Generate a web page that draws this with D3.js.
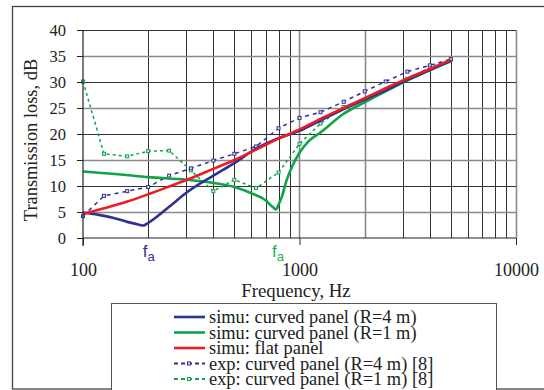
<!DOCTYPE html>
<html>
<head>
<meta charset="utf-8">
<script src="https://cdn.jsdelivr.net/npm/d3@7"></script>
<style>
    body { margin: 0; background: white; }
    text { font-family: "Liberation Serif", "Times New Roman", serif; fill: #222; }
</style>
</head>
<body>
<div id="canvas"></div>
<script>

// simulation curves (Hz, dB)
const simuR4Freq = [100, 120, 140, 160, 180, 190, 200, 250, 300, 400, 500, 630, 800, 1000, 1250, 1600, 2000, 2500, 3150, 4000, 5000];
const simuR4TL = [4.9, 4.4, 3.8, 3.1, 2.6, 2.4, 2.9, 6.0, 8.7, 12.0, 14.4, 17.2, 19.2, 20.6, 22.6, 24.8, 26.6, 28.4, 30.4, 32.3, 34.1];

const simuR1Freq = [100, 150, 200, 300, 400, 500, 600, 700, 750, 780, 800, 830, 870, 930, 1000, 1100, 1250, 1600, 2000, 2500, 3150, 4000, 5000];
const simuR1TL = [12.8, 12.2, 11.7, 11.2, 10.6, 9.8, 8.6, 7.2, 6.0, 5.5, 6.4, 8.0, 11.0, 14.0, 16.4, 18.6, 20.3, 23.9, 26.1, 28.2, 30.3, 32.3, 34.0];

const flatFreq = [100, 125, 160, 200, 250, 315, 400, 500, 630, 800, 1000, 1250, 1600, 2000, 2500, 3150, 4000, 5000];
const flatTL = [4.6, 5.7, 7.0, 8.4, 9.9, 11.5, 13.3, 15.0, 17.0, 19.1, 20.9, 22.9, 25.0, 26.9, 28.8, 30.7, 32.5, 34.3];

// experiments, third octave bands
const expFreq = [100, 125, 160, 200, 250, 315, 400, 500, 630, 800, 1000, 1250, 1600, 2000, 2500, 3150, 4000, 5000];
const expR4TL = [4.2, 8.1, 9.0, 9.8, 12.0, 13.4, 14.9, 16.2, 17.6, 21.1, 23.1, 24.2, 26.2, 28.2, 30.1, 32.0, 33.2, 34.4];
const expR1TL = [30.1, 16.2, 15.7, 16.7, 16.8, 13.0, 9.0, 11.2, 9.6, 12.6, 18.1, 22.0, 25.2, 26.6, 28.5, 30.6, 32.8, 34.3];

const yTicks = [0, 5, 10, 15, 20, 25, 30, 35, 40];
const xTicks = [100, 1000, 10000];
const faFreq = [195, 770];

const legendLabels = [
    "simu: curved panel (R=4 m)",
    "simu: curved panel (R=1 m)",
    "simu: flat panel",
    "exp: curved panel (R=4 m) [8]",
    "exp: curved panel (R=1 m) [8]"
];

const blue = "#2e3192";
const green = "#0fa34a";
const red = "#ed1c24";

const width = 544;
const height = 390;
const margin = { top: 30, right: 28, bottom: 152, left: 83 };

const svg = d3.select("#canvas")
    .append("svg")
    .attr("width", width)
    .attr("height", height);

// outer frame (runs past right edge)
svg.append("rect")
    .attr("x", 12.5).attr("y", 6.5)
    .attr("width", 600).attr("height", 382.5)
    .attr("fill", "none")
    .attr("stroke", "#444")
    .attr("stroke-width", 1.3);

const x = d3.scaleLog()
    .domain([100, 10000])
    .range([margin.left, width - margin.right]);

const y = d3.scaleLinear()
    .domain([0, 40])
    .range([height - margin.bottom, margin.top]);

const plot = svg.append("g");

// grid
const minor = [];
[100, 1000].forEach(dec => {
    for (let k = 2; k <= 9; k++) minor.push(dec * k);
});
const isGrey = d => d === 1000 || d === 2000 || d === 10000;

plot.selectAll(".vgrid")
    .data(minor.concat([1000, 10000]))
    .join("line")
    .attr("x1", d => Math.round(x(d)) + 0.5)
    .attr("x2", d => Math.round(x(d)) + 0.5)
    .attr("y1", y(0))
    .attr("y2", y(40))
    .attr("stroke", d => isGrey(d) ? "#8a8a8a" : "#333")
    .attr("stroke-width", d => isGrey(d) ? 1.6 : 1);

plot.selectAll(".hgrid")
    .data(yTicks.filter(d => d > 0))
    .join("line")
    .attr("x1", x(100))
    .attr("x2", x(10000))
    .attr("y1", d => Math.round(y(d)) + 0.5)
    .attr("y2", d => Math.round(y(d)) + 0.5)
    .attr("stroke", d => d % 10 === 0 ? "#333" : "#8a8a8a")
    .attr("stroke-width", d => d % 10 === 0 ? 1 : 1.6);

// axes
const yAxis = d3.axisLeft(y).tickValues(yTicks).tickSize(6).tickPadding(11);
const gy = svg.append("g")
    .attr("transform", `translate(${x(100)},0)`)
    .call(yAxis);
gy.select(".domain").remove();
gy.append("line")
    .attr("x1", 0).attr("x2", 0)
    .attr("y1", y(40)).attr("y2", y(0) + 8)
    .attr("stroke", "#222").attr("stroke-width", 1.2);
gy.selectAll(".tick line").attr("stroke", "#222");
gy.selectAll(".tick text")
    .style("font-family", "Liberation Serif")
    .style("font-size", "16.5px")
    .attr("fill", "#222")
    .attr("dy", "0.36em");

const xAxis = d3.axisBottom(x).tickValues(xTicks).tickFormat(d3.format("d")).tickSize(7).tickPadding(18);
const gx = svg.append("g")
    .attr("transform", `translate(0,${y(0)})`)
    .call(xAxis);
gx.select(".domain").attr("stroke", "#222").attr("stroke-width", 1.2).attr("d", `M${x(100)},0H${x(10000)}`);
gx.selectAll(".tick line").attr("stroke", "#222");
gx.selectAll(".tick text")
    .style("font-family", "Liberation Serif")
    .style("font-size", "18px")
    .attr("fill", "#222");

// axis titles
svg.append("text")
    .attr("x", 296)
    .attr("y", 297)
    .attr("text-anchor", "middle")
    .style("font-size", "18.8px")
    .text("Frequency, Hz");

svg.append("text")
    .attr("transform", "translate(37,140) rotate(-90)")
    .attr("text-anchor", "middle")
    .style("font-size", "18.4px")
    .text("Transmission loss, dB");

// curves
const line = d3.line()
    .x(d => x(d[0]))
    .y(d => y(d[1]));

const zip = (f, v) => f.map((d, i) => [d, v[i]]);

const series = [
    { data: zip(expFreq, expR1TL), color: green, dash: "3,3", marks: true },
    { data: zip(expFreq, expR4TL), color: blue, dash: "4,4", marks: true },
    { data: zip(simuR1Freq, simuR1TL), color: green, dash: null, marks: false },
    { data: zip(simuR4Freq, simuR4TL), color: blue, dash: null, marks: false },
    { data: zip(flatFreq, flatTL), color: red, dash: null, marks: false }
];

series.forEach(s => {
    line.curve(s.dash ? d3.curveLinear : d3.curveMonotoneX);
    plot.append("path")
        .datum(s.data)
        .attr("d", line)
        .attr("fill", "none")
        .attr("stroke", s.color)
        .attr("stroke-width", s.dash ? 1.5 : 2.6)
        .attr("stroke-dasharray", s.dash);
    if (s.marks) {
        plot.selectAll(null)
            .data(s.data)
            .join("rect")
            .attr("x", d => x(d[0]) - 1.5)
            .attr("y", d => y(d[1]) - 1.5)
            .attr("width", 3)
            .attr("height", 3)
            .attr("fill", "#dfe6f5")
            .attr("stroke", s.color)
            .attr("stroke-width", 1);
    }
});

// fa labels
const faColors = [blue, "#14b35a"];
faFreq.forEach((f, i) => {
    const t = svg.append("text")
        .attr("x", x(f) - 3)
        .attr("y", 257)
        .style("font-family", "Liberation Sans")
        .style("font-size", "17px")
        .style("fill", faColors[i]);
    t.append("tspan").text("f");
    t.append("tspan").attr("dy", 4).style("font-size", "13px").text("a");
});

// legend
const legend = svg.append("g");
legend.append("rect")
    .attr("x", 111.5).attr("y", 303.5)
    .attr("width", 385).attr("height", 100)
    .attr("fill", "white")
    .attr("stroke", "#555")
    .attr("stroke-width", 1);

const legendStyle = [
    { color: blue, dash: null },
    { color: green, dash: null },
    { color: red, dash: null },
    { color: blue, dash: "4,3" },
    { color: green, dash: "4,3" }
];

legendLabels.forEach((label, i) => {
    const ly = 317 + i * 15.5;
    legend.append("line")
        .attr("x1", 174).attr("x2", 205)
        .attr("y1", ly).attr("y2", ly)
        .attr("stroke", legendStyle[i].color)
        .attr("stroke-width", legendStyle[i].dash ? 1.8 : 2.6)
        .attr("stroke-dasharray", legendStyle[i].dash);
    if (legendStyle[i].dash) {
        legend.append("rect")
            .attr("x", 187.5).attr("y", ly - 1.5)
            .attr("width", 3).attr("height", 3)
            .attr("fill", "#dfe6f5")
            .attr("stroke", legendStyle[i].color);
    }
    legend.append("text")
        .attr("x", 209)
        .attr("y", ly + 6)
        .style("font-size", "18.4px")
        .text(label);
});

</script>
</body>
</html>
